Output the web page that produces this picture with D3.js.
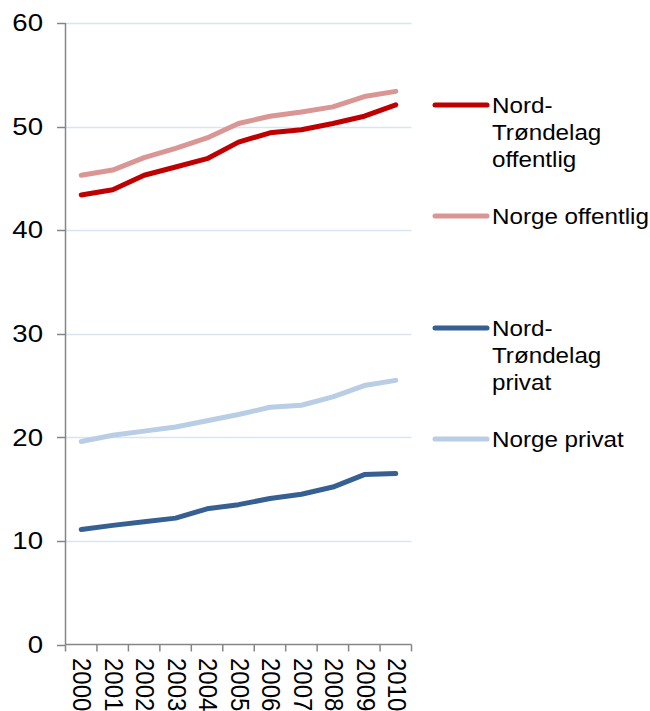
<!DOCTYPE html>
<html>
<head>
<meta charset="utf-8">
<script src="https://cdn.jsdelivr.net/npm/d3@7"></script>
<style>
  html, body { margin: 0; padding: 0; background: #fff; }
  svg { display: block; }
  text { font-family: "Liberation Sans", Arial, sans-serif; fill: #000; }
</style>
</head>
<body>
<div id="chart"></div>
<script>
const years = ["2000","2001","2002","2003","2004","2005","2006","2007","2008","2009","2010"];
const ntOffentlig = [43.4, 43.9, 45.3, 46.1, 46.9, 48.5, 49.4, 49.7, 50.3, 51.0, 52.1];
const norgeOffentlig = [45.3, 45.8, 47.0, 47.9, 48.9, 50.3, 51.0, 51.4, 51.9, 52.9, 53.4];
const ntPrivat = [11.1, 11.5, 11.85, 12.2, 13.1, 13.5, 14.1, 14.5, 15.2, 16.4, 16.5];
const norgePrivat = [19.6, 20.2, 20.6, 21.0, 21.6, 22.2, 22.9, 23.1, 23.9, 25.0, 25.5];
const yTicks = [0, 10, 20, 30, 40, 50, 60];

const series = [
  { name: ["Nord-", "Trøndelag", "offentlig"], values: ntOffentlig, color: "#c00000", ly: 105 },
  { name: ["Norge offentlig"], values: norgeOffentlig, color: "#d99694", ly: 216 },
  { name: ["Nord-", "Trøndelag", "privat"], values: ntPrivat, color: "#376092", ly: 328 },
  { name: ["Norge privat"], values: norgePrivat, color: "#b9cde5", ly: 439 }
];

const W = 650, H = 711;
const SX = 1.1;
const svg = d3.select("#chart").append("svg").attr("width", W).attr("height", H);

const x = d3.scaleBand().domain(years).range([65.5, 411.5]);
const y = d3.scaleLinear().domain([0, 60]).range([644.5, 23]);

// gridlines
svg.append("g").selectAll("line").data(yTicks.filter(d => d > 0)).join("line")
  .attr("x1", 66).attr("x2", 411.5)
  .attr("y1", d => Math.round(y(d)) + 0.5).attr("y2", d => Math.round(y(d)) + 0.5)
  .attr("stroke", "#dbe5f1").attr("stroke-width", 1.5);

// y axis
const axisColor = "#868686";
svg.append("line").attr("x1", 65.5).attr("x2", 65.5).attr("y1", y(60)).attr("y2", y(0))
  .attr("stroke", axisColor).attr("stroke-width", 1.5);
svg.append("g").selectAll("line").data(yTicks).join("line")
  .attr("x1", 57).attr("x2", 65.5)
  .attr("y1", d => Math.round(y(d)) + 0.5).attr("y2", d => Math.round(y(d)) + 0.5)
  .attr("stroke", axisColor).attr("stroke-width", 1.5);
svg.append("g").selectAll("text").data(yTicks).join("text")
  .attr("transform", d => `translate(43,${y(d) + 8.3}) scale(1.2,1)`)
  .attr("text-anchor", "end").style("font-size", "23px")
  .text(d => d);

// x axis
svg.append("line").attr("x1", 65.5).attr("x2", 411.5).attr("y1", y(0)).attr("y2", y(0))
  .attr("stroke", axisColor).attr("stroke-width", 1.5);
const bounds = years.map(d => x(d)).concat([x(years[years.length - 1]) + x.bandwidth()]);
svg.append("g").selectAll("line").data(bounds).join("line")
  .attr("x1", d => d).attr("x2", d => d)
  .attr("y1", y(0)).attr("y2", y(0) + 7)
  .attr("stroke", axisColor).attr("stroke-width", 1.5);
svg.append("g").selectAll("text").data(years).join("text")
  .attr("transform", d => `translate(${x(d) + x.bandwidth() / 2 + 1.5},658) scale(${SX},1) rotate(90)`)
  .attr("text-anchor", "start").attr("dy", "0.35em").style("font-size", "24px")
  .text(d => d);

// lines
const line = d3.line()
  .x((d, i) => x(years[i]) + x.bandwidth() / 2)
  .y(d => y(d));
svg.append("g").selectAll("path").data(series).join("path")
  .attr("d", d => line(d.values))
  .attr("fill", "none")
  .attr("stroke", d => d.color)
  .attr("stroke-width", 5)
  .attr("stroke-linejoin", "round")
  .attr("stroke-linecap", "round");

// legend
const lg = svg.append("g").selectAll("g").data(series).join("g");
lg.append("line")
  .attr("x1", 435).attr("x2", 487)
  .attr("y1", d => d.ly).attr("y2", d => d.ly)
  .attr("stroke", d => d.color).attr("stroke-width", 5).attr("stroke-linecap", "round");
lg.each(function(d) {
  const g = d3.select(this);
  d.name.forEach((t, i) => {
    g.append("text")
      .attr("transform", `translate(492,${d.ly + 8 + i * 27}) scale(${SX},1)`)
      .style("font-size", "22px")
      .text(t);
  });
});
</script>
</body>
</html>
